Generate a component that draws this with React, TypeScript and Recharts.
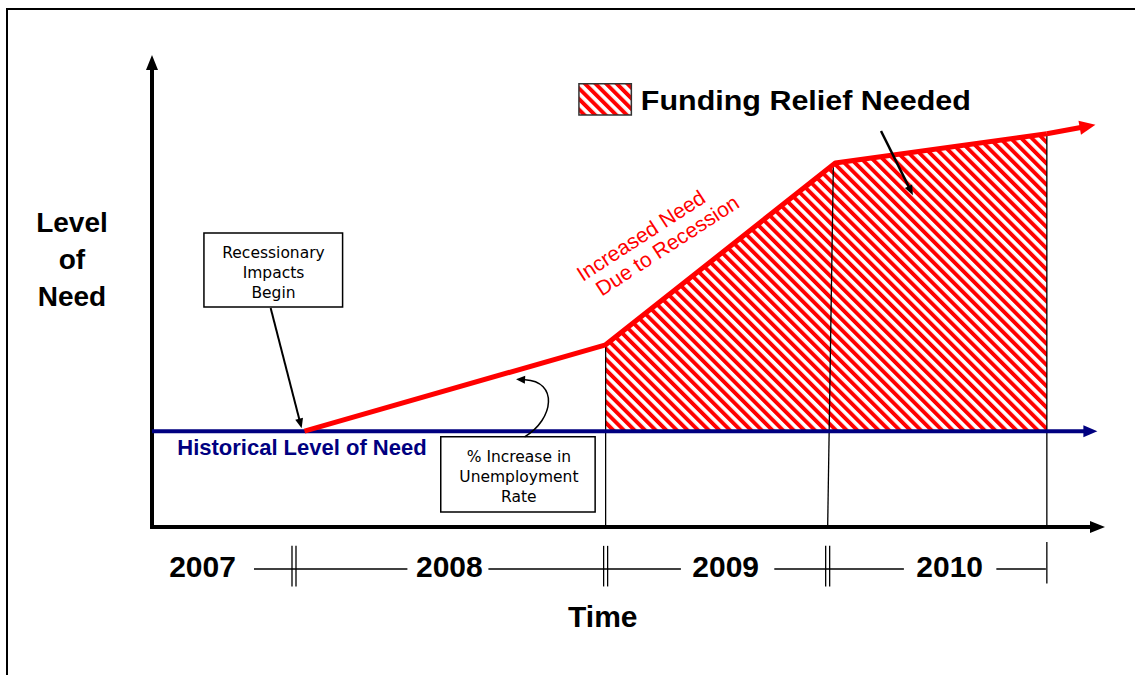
import { ComposedChart, XAxis, YAxis, Line, Area, Scatter, ReferenceLine, ReferenceArea } from 'recharts';

// horizontal units: 0 = vertical axis, 100 = tip of the time arrow
// vertical units: 0 = time axis, 100 = tip of the "level of need" arrow
const HISTORICAL_LEVEL = 20.3;
const NEED_TIME = [16.0, 47.6, 71.7, 93.9];
const NEED_LEVEL = [20.3, 38.6, 77.1, 83.3];
const NEED_TIP = { x: 99.0, y: 85.2 };
const RELIEF_TIME = [47.6, 71.7, 93.9];
const RELIEF_TOP = [38.6, 77.1, 83.3];
const DIVIDER_TOP_X = [47.6, 71.5, 93.9];
const DIVIDER_BOTTOM_X = [47.6, 70.9, 93.9];

const YEARS = ['2007', '2008', '2009', '2010'];
const YEAR_CENTER = [5.3, 31.2, 60.2, 83.7];
const YEAR_BREAK = [14.9, 47.6, 70.9, 93.9];
const TIMELINE = [[10.7, 26.8], [35.3, 55.5], [65.3, 78.9], [88.6, 93.8]];

const X_DOMAIN = [-15.95, 103.15];
const Y_DOMAIN = [-31.36, 111.65];

const needData = NEED_TIME.map((x, i) => ({ x, y: NEED_LEVEL[i] }));
const reliefData = RELIEF_TIME.map((x, i) => ({ x, band: [HISTORICAL_LEVEL, RELIEF_TOP[i]] }));
const yearData = YEARS.map((text, i) => ({ x: YEAR_CENTER[i], y: -10.6, text }));

const SANS = "'Liberation Sans', Arial, sans-serif";
const BOX_FONT = "'DejaVu Sans', Verdana, sans-serif";

const arrow = (head: number, half: number) => (p: any) => {
  const { x1, y1, x2, y2, stroke, strokeWidth } = p;
  const a = Math.atan2(y2 - y1, x2 - x1);
  const c = Math.cos(a);
  const s = Math.sin(a);
  const bx = x2 - head * c;
  const by = y2 - head * s;
  return (
    <g>
      <line x1={x1} y1={y1} x2={bx + c} y2={by + s} stroke={stroke} strokeWidth={strokeWidth} />
      <polygon points={`${x2},${y2} ${bx - half * s},${by + half * c} ${bx + half * s},${by - half * c}`} fill={stroke} />
    </g>
  );
};

const curvedArrow = (p: any) => {
  const { x1, y1, x2, y2 } = p;
  const c1x = x1 + 30, c1y = y1 - 18, c2x = x2 + 42, c2y = y2 + 2;
  const a = Math.atan2(y2 - c2y, x2 - c2x);
  const c = Math.cos(a), s = Math.sin(a);
  const bx = x2 - 9 * c, by = y2 - 9 * s;
  return (
    <g>
      <path d={`M${x1},${y1} C${c1x},${c1y} ${c2x},${c2y} ${bx},${by}`} fill="none" stroke="#000" strokeWidth={1.5} />
      <polygon points={`${x2},${y2} ${bx - 4 * s},${by + 4 * c} ${bx + 4 * s},${by - 4 * c}`} fill="#000" />
    </g>
  );
};

const doubleTick = (p: any) => {
  const { x1, y1, x2, y2 } = p;
  return (
    <g stroke="#000" strokeWidth={1.3}>
      <line x1={x1 - 2} y1={y1} x2={x2 - 2} y2={y2} />
      <line x1={x1 + 2} y1={y1} x2={x2 + 2} y2={y2} />
    </g>
  );
};

const textShape = (style: any, lineHeight = 0) => (p: any) => {
  const { cx, cy, payload } = p;
  const lines = String(payload.text).split('\n');
  return (
    <text x={cx} y={cy} {...style}>
      {lines.map((l, i) => (
        <tspan key={i} x={cx} dy={i === 0 ? 0 : lineHeight}>{l}</tspan>
      ))}
    </text>
  );
};

const rotatedText = (p: any) => {
  const { cx, cy, payload } = p;
  return (
    <text x={cx} y={cy} transform={`rotate(-33 ${cx} ${cy})`} fill="#ff0000" fontFamily={SANS} fontSize={21}>
      {payload.text}
    </text>
  );
};

export default function App() {
  return (
    <div style={{ position: 'absolute', left: 0, top: 0, width: 1135, height: 675, overflow: 'hidden', background: '#fff' }}>
      <div style={{ position: 'absolute', left: 6, top: 8, width: 1300, height: 900, border: '2px solid #000' }} />
      <div style={{ position: 'absolute', left: 0, top: 0 }}>
        <ComposedChart width={1135} height={675} margin={{ top: 0, right: 0, bottom: 0, left: 0 }}>
          <defs>
            <pattern id="hatch" patternUnits="userSpaceOnUse" width={7.5} height={7.5} patternTransform="rotate(-45)">
              <rect x={0} y={0} width={3.9} height={7.5} fill="#ff0000" />
            </pattern>
          </defs>
          <XAxis type="number" dataKey="x" domain={X_DOMAIN} allowDataOverflow hide />
          <YAxis type="number" domain={Y_DOMAIN} allowDataOverflow hide />

          <Area data={reliefData} dataKey="band" type="linear" stroke="none" fill="url(#hatch)" fillOpacity={1} isAnimationActive={false} />

          {DIVIDER_TOP_X.map((x, i) => (
            <ReferenceLine key={`d${i}`} ifOverflow="visible" stroke="#000" strokeWidth={1.3}
              segment={[{ x, y: RELIEF_TOP[i] }, { x: DIVIDER_BOTTOM_X[i], y: 0 }]} />
          ))}

          {/* axes */}
          <ReferenceLine ifOverflow="visible" stroke="#000" strokeWidth={4} shape={arrow(15, 6)}
            segment={[{ x: 0, y: -0.4 }, { x: 0, y: 100 }]} />
          <ReferenceLine ifOverflow="visible" stroke="#000" strokeWidth={4} shape={arrow(15, 6)}
            segment={[{ x: -0.2, y: 0 }, { x: 100, y: 0 }]} />

          {/* historical level */}
          <ReferenceLine ifOverflow="visible" stroke="#000080" strokeWidth={4} shape={arrow(14, 6)}
            segment={[{ x: 0, y: HISTORICAL_LEVEL }, { x: 99.2, y: HISTORICAL_LEVEL }]} />

          {/* need line */}
          <Line data={needData} dataKey="y" type="linear" stroke="#ff0000" strokeWidth={5} dot={false}
            strokeLinejoin="round" isAnimationActive={false} />
          <ReferenceLine ifOverflow="visible" stroke="#ff0000" strokeWidth={5} shape={arrow(16, 7)}
            segment={[{ x: NEED_TIME[3], y: NEED_LEVEL[3] }, NEED_TIP]} />

          {/* timeline below the axis */}
          {TIMELINE.map(([a, b], i) => (
            <ReferenceLine key={`t${i}`} ifOverflow="visible" stroke="#000" strokeWidth={1.5}
              segment={[{ x: a, y: -8.9 }, { x: b, y: -8.9 }]} />
          ))}
          {YEAR_BREAK.map((x, i) =>
            i < 3 ? (
              <ReferenceLine key={`b${i}`} ifOverflow="visible" shape={doubleTick}
                segment={[{ x, y: -4.0 }, { x, y: -12.6 }]} />
            ) : (
              <ReferenceLine key={`b${i}`} ifOverflow="visible" stroke="#000" strokeWidth={1.3}
                segment={[{ x, y: -3.2 }, { x, y: -12.0 }]} />
            )
          )}

          {/* call-out boxes */}
          <ReferenceArea ifOverflow="visible" x1={5.45} x2={20.0} y1={46.6} y2={62.3} fill="#fff" fillOpacity={1} stroke="#000" strokeWidth={1.5} />
          <ReferenceArea ifOverflow="visible" x1={30.3} x2={46.5} y1={3.2} y2={19.1} fill="#fff" fillOpacity={1} stroke="#000" strokeWidth={1.5} />
          <ReferenceLine ifOverflow="visible" stroke="#000" strokeWidth={2} shape={arrow(10, 4)}
            segment={[{ x: 12.45, y: 46.4 }, { x: 15.7, y: 20.9 }]} />
          <ReferenceLine ifOverflow="visible" shape={curvedArrow}
            segment={[{ x: 39.1, y: 19.1 }, { x: 38.2, y: 31.3 }]} />
          <ReferenceLine ifOverflow="visible" stroke="#000" strokeWidth={2.5} shape={arrow(10, 4)}
            segment={[{ x: 76.5, y: 83.9 }, { x: 79.85, y: 70.3 }]} />

          {/* legend */}
          <ReferenceArea ifOverflow="visible" x1={44.8} x2={50.3} y1={87.3} y2={93.9} fill="url(#hatch)" fillOpacity={1} stroke="#333" strokeWidth={1.5} />

          {/* texts */}
          <Scatter data={[{ x: 51.3, y: 88.35, text: 'Funding Relief Needed' }]} dataKey="y" isAnimationActive={false}
            shape={(p: any) => (
              <text x={p.cx} y={p.cy} fontFamily={SANS} fontWeight="bold" fontSize={27} textLength={330} lengthAdjust="spacingAndGlyphs">
                {p.payload.text}
              </text>
            )} />
          <Scatter data={[{ x: -8.4, y: 62.5, text: 'Level\nof\nNeed' }]} dataKey="y" isAnimationActive={false}
            shape={textShape({ fontFamily: SANS, fontWeight: 'bold', fontSize: 28, textAnchor: 'middle' }, 37)} />
          <Scatter data={[{ x: 47.3, y: -21.2, text: 'Time' }]} dataKey="y" isAnimationActive={false}
            shape={textShape({ fontFamily: SANS, fontWeight: 'bold', fontSize: 30, textAnchor: 'middle' })} />
          <Scatter data={yearData} dataKey="y" isAnimationActive={false}
            shape={textShape({ fontFamily: SANS, fontWeight: 'bold', fontSize: 30, textAnchor: 'middle' })} />
          <Scatter data={[{ x: 2.65, y: 15.15, text: 'Historical Level of Need' }]} dataKey="y" isAnimationActive={false}
            shape={textShape({ fontFamily: SANS, fontWeight: 'bold', fontSize: 22, fill: '#000080' })} />
          <Scatter data={[{ x: 12.75, y: 57.0, text: 'Recessionary\nImpacts\nBegin' }]} dataKey="y" isAnimationActive={false}
            shape={textShape({ fontFamily: BOX_FONT, fontSize: 15.5, textAnchor: 'middle' }, 20)} />
          <Scatter data={[{ x: 38.5, y: 13.7, text: '% Increase in\nUnemployment\nRate' }]} dataKey="y" isAnimationActive={false}
            shape={textShape({ fontFamily: BOX_FONT, fontSize: 15.5, textAnchor: 'middle' }, 20)} />
          <Scatter data={[{ x: 45.2, y: 51.9, text: 'Increased Need' }, { x: 47.2, y: 48.8, text: 'Due to Recession' }]}
            dataKey="y" isAnimationActive={false} shape={rotatedText} />
        </ComposedChart>
      </div>
    </div>
  );
}
